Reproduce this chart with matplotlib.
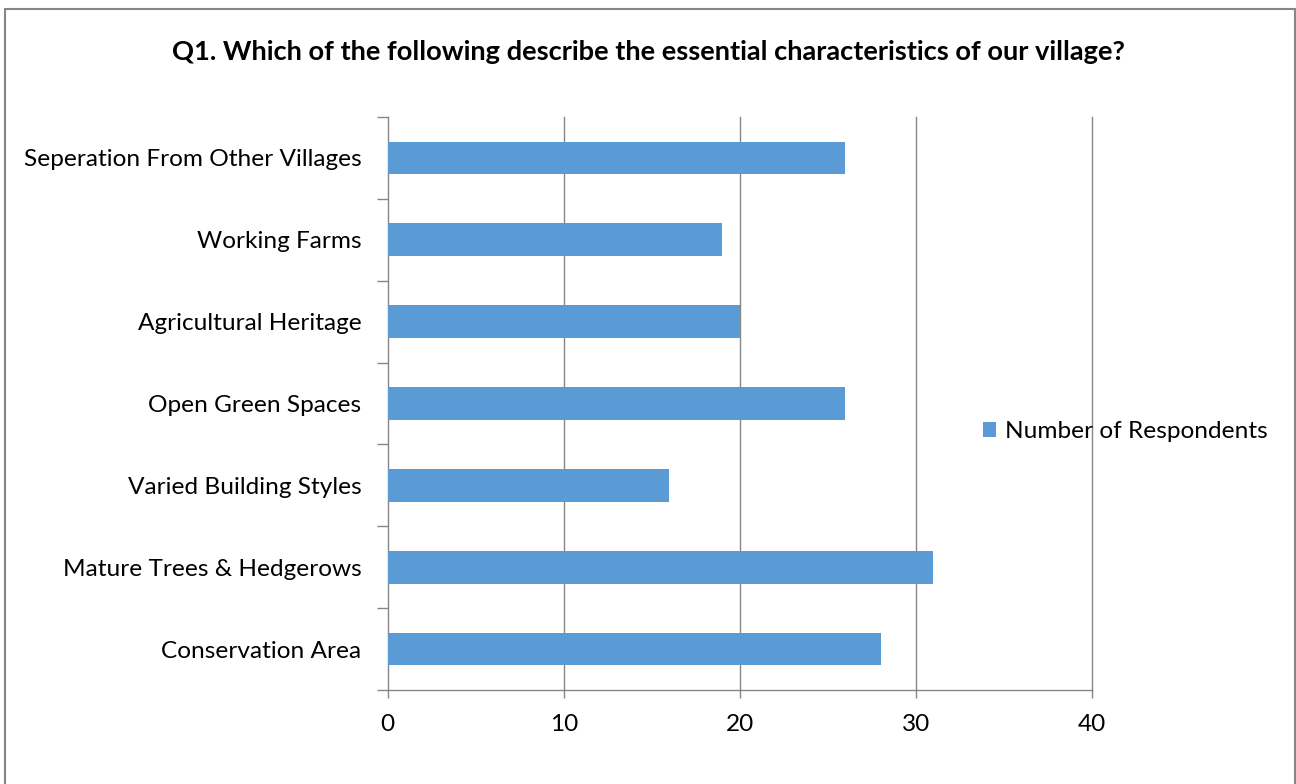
import numpy as np
import matplotlib.pyplot as plt
from matplotlib.patches import Rectangle
from matplotlib.ticker import FixedLocator

categories = ['Seperation From Other Villages', 'Working Farms', 'Agricultural Heritage',
              'Open Green Spaces', 'Varied Building Styles', 'Mature Trees & Hedgerows',
              'Conservation Area']
respondents = [26, 19, 20, 26, 16, 31, 28]
x_ticks = [0, 10, 20, 30, 40]
title = 'Q1. Which of the following describe the essential characteristics of our village?'
series_name = 'Number of Respondents'

plt.rcParams['font.family'] = ['Lato', 'DejaVu Sans']
bar_color = '#5B9BD5'
axis_gray = '#868686'
label_size = 17.6

fig = plt.figure(figsize=(12.96, 7.84), dpi=100)
ax = fig.add_axes([0.2992, 0.1199, 0.5432, 0.7309])

y = np.arange(len(categories))
ax.barh(y, respondents, height=0.4, color=bar_color, label=series_name, zorder=3)

ax.set_xlim(0, 40)
ax.set_ylim(len(categories) - 0.5, -0.5)
ax.set_xticks(x_ticks)
ax.set_yticks(y)
ax.set_yticklabels(categories)
ax.yaxis.set_minor_locator(FixedLocator(np.arange(-0.5, len(categories), 1.0)))

# vertical gridlines, last one sits on the right edge so don't clip it
for xv in x_ticks[1:]:
    ax.axvline(xv, color=axis_gray, linewidth=1.0, zorder=0, clip_on=False)
for side in ['top', 'right']:
    ax.spines[side].set_visible(False)
for side in ['left', 'bottom']:
    ax.spines[side].set_color(axis_gray)
    ax.spines[side].set_linewidth(1.0)

ax.tick_params(axis='y', which='major', length=0, pad=19, labelsize=label_size, labelcolor='black')
ax.tick_params(axis='y', which='minor', length=8, color=axis_gray, width=1.0)
ax.tick_params(axis='x', which='major', length=6, color=axis_gray, width=1.0,
               pad=11, labelsize=label_size, labelcolor='black')

fig.text(0.5, 0.934, title, ha='center', va='center', fontsize=19.6, fontweight='bold')

fig.legend(loc='center left', bbox_to_anchor=(0.7585, 0.449), frameon=False,
           fontsize=label_size, handlelength=0.55, handleheight=0.55, handletextpad=0.35,
           borderpad=0, borderaxespad=0)

# chart area border: top/left/right visible, bottom runs off the image
fig.patches.append(Rectangle((5 / 1296, -0.02), 1290 / 1296, 1.02 - 9 / 784,
                             transform=fig.transFigure, fill=False,
                             edgecolor=axis_gray, linewidth=1.5))

fig.savefig('out.png', dpi=100)
